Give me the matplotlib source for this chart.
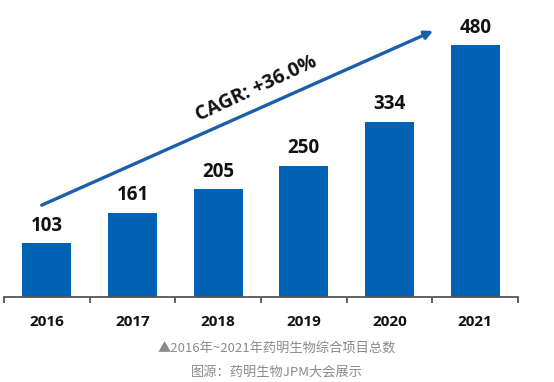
import numpy as np
import matplotlib.pyplot as plt

# --- Data ---
years = ["2016", "2017", "2018", "2019", "2020", "2021"]
projects = [103, 161, 205, 250, 334, 480]
cagr_label = "CAGR: +36.0%"
caption = "▲2016年~2021年药明生物综合项目总数"
source = "图源：药明生物JPM大会展示"

plt.rcParams['font.family'] = ['Open Sans', 'Noto Sans CJK SC', 'DejaVu Sans']

fig = plt.figure(figsize=(5.54, 3.82), dpi=100)
ax = fig.add_axes([4 / 554, 85 / 382, 514 / 554, 297 / 382])

x = np.arange(len(years))
ax.bar(x, projects, width=0.57, color="#0062b4")

for xi, v in zip(x, projects):
    ax.text(xi, v + 14, str(v), ha="center", va="bottom",
            fontsize=13.5, fontweight="bold", color="#111111")

ax.set_xlim(-0.5, len(years) - 0.5)
ax.set_ylim(0, 566)

# axis: only bottom spine, ticks between categories
for s in ["top", "right", "left"]:
    ax.spines[s].set_visible(False)
ax.spines["bottom"].set_color("#555555")
ax.spines["bottom"].set_linewidth(1.3)
ax.set_yticks([])
ax.set_xticks(x)
ax.set_xticklabels(years, fontsize=11, fontweight="bold", color="#111111")
ax.tick_params(axis="x", which="major", length=0, pad=13)
ax.set_xticks(np.arange(-0.5, len(years)), minor=True)
ax.tick_params(axis="x", which="minor", length=4.5, width=1.3, color="#555555")

# CAGR arrow
ax.annotate("", xy=(4.51, 507), xytext=(-0.06, 175),
            arrowprops=dict(arrowstyle="-|>", color="#1b5eab", lw=2.4,
                            mutation_scale=12, shrinkA=0, shrinkB=0))
ax.text(2.45, 396, cagr_label, rotation=25, ha="center", va="center",
        fontsize=14, fontweight="bold", color="#111111",
        rotation_mode="anchor")

# caption
fig.text(0.5, 1 - 348 / 382, caption, ha="center", va="center",
         fontsize=9.5, color="#8a8a8a",
         family=['Noto Sans CJK SC', 'DejaVu Sans'])
fig.text(0.5, 1 - 372 / 382, source, ha="center", va="center",
         fontsize=9.5, color="#8a8a8a",
         family=['Noto Sans CJK SC', 'DejaVu Sans'])

fig.savefig("out.png", dpi=100)
